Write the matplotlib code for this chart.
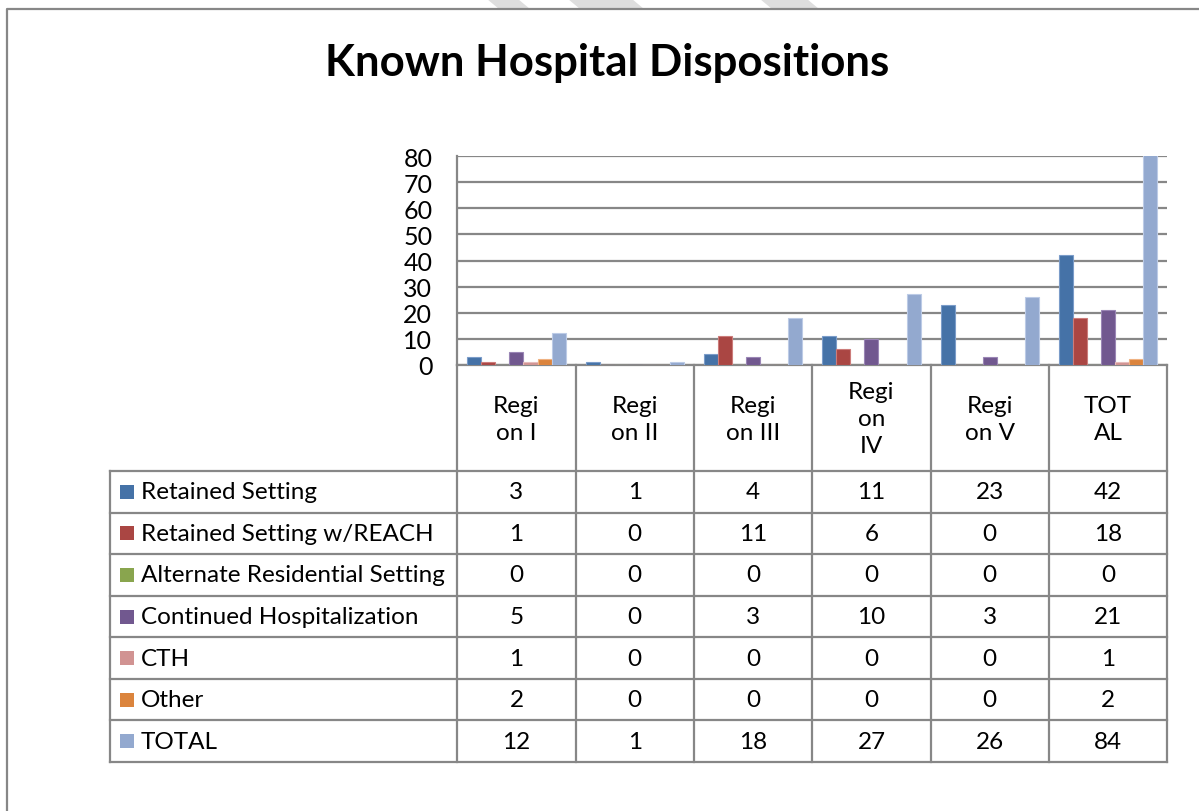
import matplotlib
matplotlib.use('Agg')
import matplotlib.pyplot as plt
import numpy as np

plt.rcParams['font.family'] = ['Lato', 'DejaVu Sans']

# data
regions = ['Regi\non I', 'Regi\non II', 'Regi\non III', 'Regi\non\nIV', 'Regi\non V', 'TOT\nAL']
series = ['Retained Setting', 'Retained Setting w/REACH', 'Alternate Residential Setting',
          'Continued Hospitalization', 'CTH', 'Other', 'TOTAL']
retained = [3, 1, 4, 11, 23, 42]
retained_reach = [1, 0, 11, 6, 0, 18]
alternate = [0, 0, 0, 0, 0, 0]
continued = [5, 0, 3, 10, 3, 21]
cth = [1, 0, 0, 0, 0, 1]
other = [2, 0, 0, 0, 0, 2]
total = [12, 1, 18, 27, 26, 84]
values = [retained, retained_reach, alternate, continued, cth, other, total]
colors = ['#4572A7', '#AA4643', '#89A54E', '#71588F', '#D19392', '#DB843D', '#93A9CF']
edges = ['#7b9cc9', '#cc7c7a', '#b3cc85', '#9a86b5', '#e6bcbb', '#efb282', '#bccbe6']
yticks = [0, 10, 20, 30, 40, 50, 60, 70, 80]

W, H = 1199, 812
fig = plt.figure(figsize=(W / 100, H / 100), dpi=100)

# pixel overlay for frame, title and table
ax0 = fig.add_axes([0, 0, 1, 1])
ax0.set_xlim(0, W)
ax0.set_ylim(H, 0)
ax0.axis('off')

gray = '#878787'
ax0.plot([7, 7, W], [H, 10, 10], color=gray, lw=1.6, solid_capstyle='butt')
# watermark bits
for x0, x1 in [(487, 518), (568, 632), (760, 807)]:
    ax0.fill([x0, x1, x1 + 12, x0 + 12], [0, 0, 10, 10], color='#dedede', lw=0)

ax0.text(607, 63, 'Known Hospital Dispositions', ha='center', va='center',
         fontsize=31.5, fontweight='bold')

# plot area
pl, pr, pt, pb = 457.3, 1167.3, 157.3, 365.7
ax = fig.add_axes([pl / W, 1 - pb / H, (pr - pl) / W, (pb - pt) / H])
ax.patch.set_alpha(0)
bw = 14 / 118
x = np.arange(len(regions))
for i, (vals, c, e) in enumerate(zip(values, colors, edges)):
    ax.bar(x + 10 / 118 + bw * (i + 0.5), vals, bw, color=c, edgecolor=e, linewidth=0.8, zorder=3)
ax.set_xlim(0, len(regions))
ax.set_ylim(0, 80)
ax.set_yticks(yticks)
ax.set_xticks([])
ax.yaxis.grid(True, color=gray, lw=1.6)
ax.set_axisbelow(True)
for s in ['top', 'right']:
    ax.spines[s].set_visible(False)
for s in ['left', 'bottom']:
    ax.spines[s].set_color(gray)
    ax.spines[s].set_linewidth(1.6)
ax.tick_params(axis='y', length=0, pad=18, labelsize=18)

# data table
tl, ttop, hdr_bot, tbot = 110, pb, 472, 763
row_h = (tbot - hdr_bot) / len(series)
col_w = (pr - pl) / len(regions)
col_x = [pl + col_w * k for k in range(len(regions) + 1)]
for cx in col_x:
    ax0.plot([cx, cx], [ttop, tbot], color=gray, lw=1.6)
ax0.plot([tl, tl], [hdr_bot, tbot], color=gray, lw=1.6)
for r in range(len(series) + 1):
    yy = hdr_bot + r * row_h
    ax0.plot([tl, pr], [yy, yy], color=gray, lw=1.6)

fs = 17.5
for k, reg in enumerate(regions):
    ax0.text(col_x[k] + col_w / 2, (ttop + hdr_bot) / 2 + 1, reg, ha='center', va='center',
             fontsize=fs, linespacing=1.35)

for r, (name, vals, c) in enumerate(zip(series, values, colors)):
    yc = hdr_bot + (r + 0.5) * row_h
    ax0.add_patch(plt.Rectangle((120, yc - 7), 14, 14, color=c, lw=0))
    ax0.text(141, yc, name, ha='left', va='center', fontsize=fs)
    for k, v in enumerate(vals):
        ax0.text(col_x[k] + col_w / 2, yc, str(v), ha='center', va='center', fontsize=fs)

fig.savefig('out.png', dpi=100)
